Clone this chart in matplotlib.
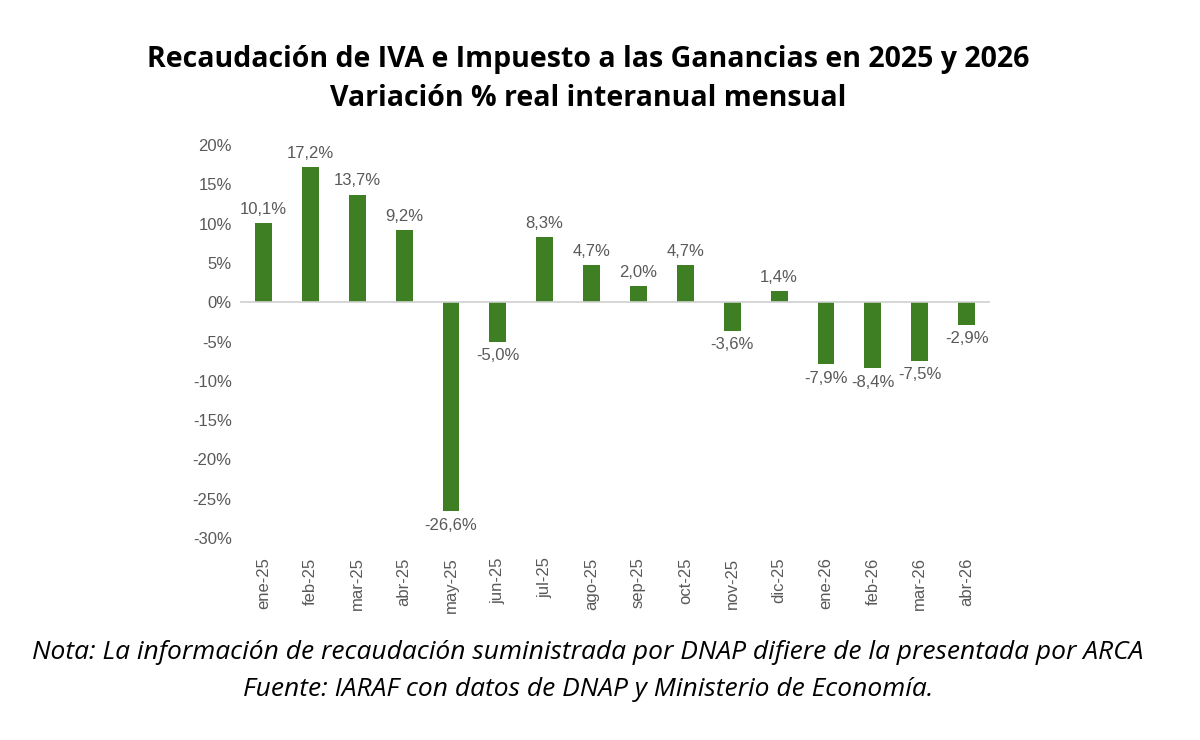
import matplotlib
matplotlib.use("Agg")
import matplotlib.pyplot as plt
import numpy as np

months = ["ene-25","feb-25","mar-25","abr-25","may-25","jun-25","jul-25","ago-25","sep-25","oct-25","nov-25","dic-25","ene-26","feb-26","mar-26","abr-26"]
values = [10.1,17.2,13.7,9.2,-26.6,-5.0,8.3,4.7,2.0,4.7,-3.6,1.4,-7.9,-8.4,-7.5,-2.9]
yticks = [20,15,10,5,0,-5,-10,-15,-20,-25,-30]

plt.rcParams['font.family'] = ['Liberation Sans', 'DejaVu Sans']
fig = plt.figure(figsize=(12, 7.4), dpi=100)
ax = fig.add_axes([0.2, 0.273, 0.625, 0.531])
x = np.arange(len(months))
ax.bar(x, values, width=0.36, color="#3f7f23")
for xi, v in zip(x, values):
    lab = f"{v:.1f}%".replace(".", ",")
    if v >= 0:
        ax.text(xi, v + 0.8, lab, ha="center", va="bottom", fontsize=12, color="#595959")
    else:
        ax.text(xi, v - 0.8, lab, ha="center", va="top", fontsize=12, color="#595959")
ax.set_ylim(-30, 20)
ax.set_xlim(-0.5, len(months) - 0.5)
ax.set_yticks(yticks)
ax.set_yticklabels([f"{t}%" for t in yticks], fontsize=12, color="#595959")
ax.set_xticks(x)
ax.set_xticklabels(months, rotation=90, fontsize=12, color="#595959")
for s in ax.spines.values():
    s.set_visible(False)
ax.axhline(0, color="#d0d0d0", lw=1.2)
ax.tick_params(length=0, pad=6)
ax.tick_params(axis="x", pad=14)

tf = ['Open Sans', 'DejaVu Sans']
fig.text(0.49, 0.92, "Recaudación de IVA e Impuesto a las Ganancias en 2025 y 2026",
         ha="center", va="center", fontsize=20.5, fontweight="bold", color="black", family=tf)
fig.text(0.49, 0.867, "Variación % real interanual mensual",
         ha="center", va="center", fontsize=20.5, fontweight="bold", color="black", family=tf)
fig.text(0.49, 0.118, "Nota: La información de recaudación suministrada por DNAP difiere de la presentada por ARCA",
         ha="center", va="center", fontsize=19, style="italic", color="black", family=tf)
fig.text(0.49, 0.068, "Fuente: IARAF con datos de DNAP y Ministerio de Economía.",
         ha="center", va="center", fontsize=19, style="italic", color="black", family=tf)
fig.savefig("out.png", dpi=100, facecolor="white")
